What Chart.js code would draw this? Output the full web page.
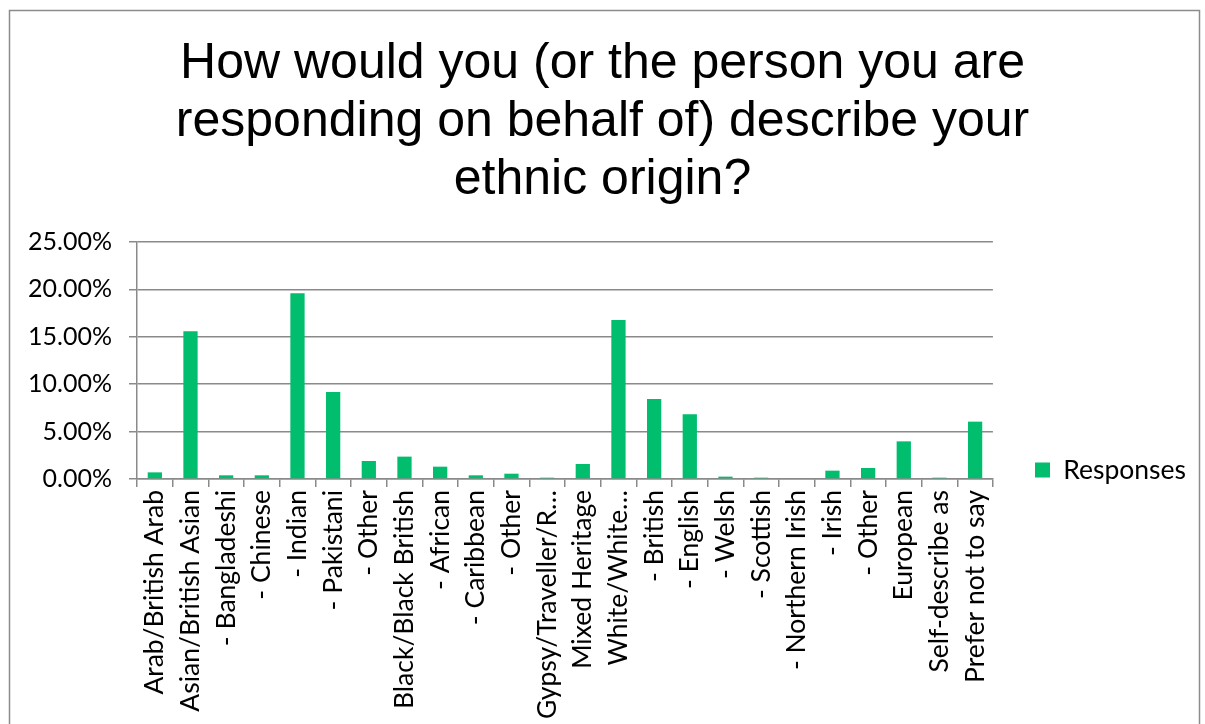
<!DOCTYPE html>
<html>
<head>
<meta charset="utf-8">
<script src="https://cdn.jsdelivr.net/npm/chart.js@4.4.1/dist/chart.umd.min.js"></script>
<style>
  html, body { margin: 0; padding: 0; background: #fff; }
  #wrap { position: relative; width: 1205px; height: 724px; }
</style>
</head>
<body>
<div id="wrap"><canvas id="c" width="1205" height="724"></canvas></div>
<script>
const categories = [
  "Arab/British Arab", "Asian/British Asian", "- Bangladeshi", "- Chinese", "- Indian",
  "- Pakistani", "- Other", "Black/Black British", "- African", "- Caribbean", "- Other",
  "Gypsy/Traveller/R\u2026", "Mixed Heritage", "White/White\u2026", "- British", "- English",
  "- Welsh", "- Scottish", "- Northern Irish", "- Irish", "- Other", "European",
  "Self-describe as", "Prefer not to say"
];
const responses = [
  0.70, 15.58, 0.39, 0.39, 19.59, 9.18, 1.90, 2.36, 1.30, 0.39, 0.56, 0.14,
  1.58, 16.77, 8.44, 6.82, 0.25, 0.14, 0, 0.88, 1.16, 3.97, 0.14, 6.05
];
const yTicks = [0, 5, 10, 15, 20, 25];
const titleLines = [
  "How would you (or the person you are",
  "responding on behalf of) describe your",
  "ethnic origin?"
];
const seriesName = "Responses";

const GRID = '#8a8a8a';
const BAR = '#00BE6E';
const LABEL_FONT = 'Lato';

const framePlugin = {
  id: 'frame',
  beforeDraw(chart) {
    const ctx = chart.ctx;
    ctx.save();
    ctx.fillStyle = '#fff';
    ctx.fillRect(0, 0, chart.width, chart.height);
    ctx.strokeStyle = '#8c8c8c';
    ctx.lineWidth = 1.5;
    ctx.strokeRect(9.5, 10.5, 1190, 740);
    ctx.restore();
  }
};

const placeBoxes = {
  id: 'placeBoxes',
  afterLayout(chart) {
    const L = chart.legend;
    if (L) {
      const h = L.bottom - L.top;
      L.top = 470 - h / 2;
      L.bottom = L.top + h;
      const w = L.right - L.left;
      L.left = 1035 - L.options.labels.padding;
      L.right = L.left + w;
    }
    const T = chart.titleBlock;
    if (T) {
      T.left = 0;
      T.right = chart.width;
    }
  }
};

new Chart(document.getElementById('c'), {
  type: 'bar',
  data: {
    labels: categories,
    datasets: [{
      label: seriesName,
      data: responses,
      backgroundColor: BAR,
      borderWidth: 0,
      categoryPercentage: 1.0,
      barPercentage: 0.4
    }]
  },
  options: {
    responsive: false,
    animation: false,
    devicePixelRatio: 1,
    layout: { padding: { left: 10, right: 41, top: 0, bottom: 0 } },
    plugins: {
      title: {
        display: true,
        text: titleLines,
        color: '#000',
        font: { family: 'Liberation Sans', size: 50, weight: 'normal', lineHeight: 1.16 },
        padding: { top: 35, bottom: 33 }
      },
      legend: {
        display: true,
        position: 'right',
        fullSize: false,
        align: 'center',
        labels: {
          boxWidth: 15,
          boxHeight: 15,
          padding: 10,
          color: '#000',
          font: { family: LABEL_FONT, size: 26.5 }
        }
      },
      tooltip: { enabled: false }
    },
    scales: {
      x: {
        offset: true,
        grid: { display: true, drawOnChartArea: false, drawTicks: true, tickLength: 8, color: GRID, lineWidth: 1.5, offset: true },
        border: { display: true, color: GRID, width: 1.5 },
        ticks: {
          autoSkip: false, minRotation: 90, maxRotation: 90, padding: 3,
          color: '#000', font: { family: LABEL_FONT, size: 26.5 }
        },
        afterFit(scale) { scale.height = 245; }
      },
      y: {
        min: 0, max: 25,
        afterBuildTicks(scale) { scale.ticks = yTicks.map(v => ({ value: v })); },
        grid: { color: GRID, lineWidth: 1.5, tickLength: 8, drawTicks: true },
        border: { display: true, color: GRID, width: 1.5 },
        ticks: {
          padding: 17, color: '#000', font: { family: LABEL_FONT, size: 25 },
          callback: v => v.toFixed(2) + '%'
        },
        afterFit(scale) { scale.width = 127; }
      }
    }
  },
  plugins: [framePlugin, placeBoxes]
});
</script>
</body>
</html>
